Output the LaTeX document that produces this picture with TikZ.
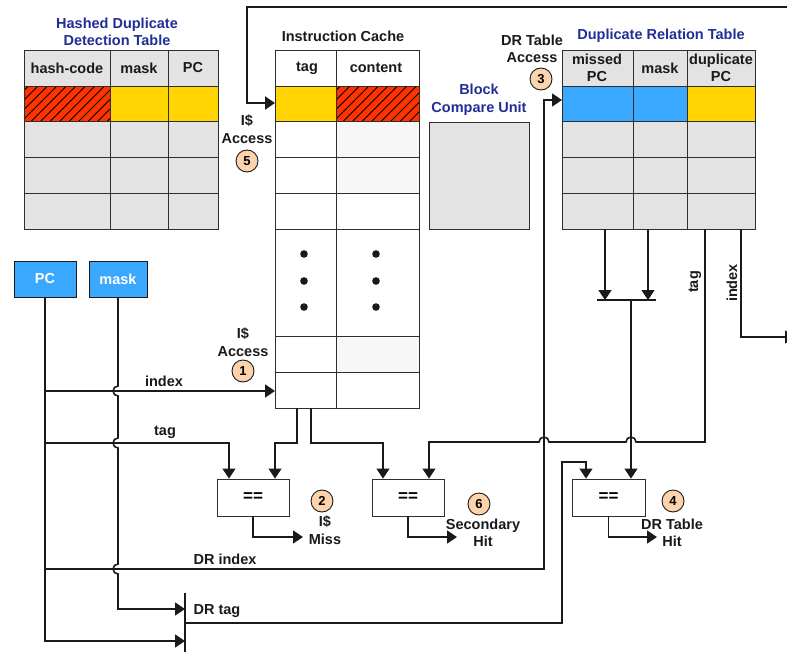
\documentclass[tikz,border=0pt]{standalone}
\usepackage{fontspec}
\setmainfont{Liberation Sans}
\usetikzlibrary{arrows.meta}

\begin{document}
\begin{tikzpicture}[
  x=1pt, y=-1pt,
  font=\fontsize{14.5}{17.5}\selectfont\bfseries,
  wire/.style={draw=lineDark, line width=1.6pt},
  arr/.style={wire, -{Triangle[length=10pt, width=13pt]}},
  title/.style={text=titleBlue, align=center, inner sep=0pt},
  lbl/.style={text=lineDark, align=center, inner sep=0pt},
  cmpbox/.style={draw=gridLine, fill=white, line width=0.9pt, minimum width=72pt, minimum height=37pt, font=\fontsize{17}{17}\selectfont\bfseries},
  regbox/.style={draw=lineDark, fill=regBlue, text=white, line width=0.9pt, minimum height=36pt, inner sep=0pt},
  stepno/.style={circle, draw=lineDark, fill=stepPeach, line width=0.9pt, minimum size=22pt, inner sep=0pt, font=\fontsize{13}{13}\selectfont\bfseries},
]

\definecolor{lineDark}{HTML}{1A1A1A}
\definecolor{gridLine}{HTML}{2E2E2E}
\definecolor{titleBlue}{HTML}{1F2F96}
\definecolor{cellGray}{HTML}{E3E3E3}
\definecolor{cacheTint}{HTML}{F7F7F7}
\definecolor{hitYellow}{HTML}{FFD400}
\definecolor{hatchRed}{HTML}{FF3300}
\definecolor{regBlue}{HTML}{3BA8FF}
\definecolor{stepPeach}{HTML}{FCD3AC}

\useasboundingbox (0,0) rectangle (787,653);

% Helper macros: x0, x1, y0, y1 (and fill).
\newcommand{\tblcell}[5]{%
  \draw[draw=gridLine, line width=0.9pt, fill=#5] (#1,#3) rectangle (#2,#4);%
}
\newcommand{\hatchcell}[4]{%
  \begin{scope}
    \clip (#1,#3) rectangle (#2,#4);
    \fill[hatchRed] (#1,#3) rectangle (#2,#4);
    \foreach \hx in {-40,-30.5,...,110} {\draw[line width=0.9pt] ({#1+\hx},#4) -- ++(40,-40);}
  \end{scope}
  \draw[draw=gridLine, line width=0.9pt] (#1,#3) rectangle (#2,#4);%
}

% Hashed duplicate detection table.
\foreach \xa/\xb in {24/110,110/168,168/218}
  \foreach \ya/\yb in {50/86,121/157,157/193,193/229}
    {\tblcell{\xa}{\xb}{\ya}{\yb}{cellGray}}
\hatchcell{24}{110}{86}{121}
\tblcell{110}{168}{86}{121}{hitYellow}
\tblcell{168}{218}{86}{121}{hitYellow}
\node[title] (hdtitle) at (117,32) {Hashed Duplicate\\Detection Table};
\node[lbl] (hdhash) at (67,68) {hash-code};
\node[lbl] (hdmask) at (139,68) {mask};
\node[lbl] (hdpc) at (193,68) {PC};

% Instruction cache.
\foreach \ya/\yb in {50/86,121/157,157/193,193/229,229/336,336/372,372/408}
  {\tblcell{275}{336}{\ya}{\yb}{white}}
\foreach \ya/\yb in {50/86,193/229,229/336,372/408}
  {\tblcell{336}{419}{\ya}{\yb}{white}}
\foreach \ya/\yb in {121/157,157/193,336/372}
  {\tblcell{336}{419}{\ya}{\yb}{cacheTint}}
\tblcell{275}{336}{86}{121}{hitYellow}
\hatchcell{336}{419}{86}{121}
\foreach \dy in {254,281,307} {
  \fill[lineDark] (304,\dy) circle (3.8);
  \fill[lineDark] (376,\dy) circle (3.8);
}
\node[lbl] (ictitle) at (343,36) {Instruction Cache};
\node[lbl] (ictag) at (307,68) {tag};
\node[lbl] (iccont) at (376,68) {content};

% Block compare unit.
\tblcell{429}{529}{122}{229}{cellGray}
\node[title] (bctitle) at (479,100) {Block\\Compare Unit};

% Duplicate relation table.
\foreach \xa/\xb in {562/633,633/687,687/755}
  \foreach \ya/\yb in {50/86,121/157,157/193,193/229}
    {\tblcell{\xa}{\xb}{\ya}{\yb}{cellGray}}
\tblcell{562}{633}{86}{121}{regBlue}
\tblcell{633}{687}{86}{121}{regBlue}
\tblcell{687}{755}{86}{121}{hitYellow}
\node[title] (drtitle) at (661,36) {Duplicate Relation Table};
\node[lbl] (drhpc) at (597,68) {missed\\PC};
\node[lbl] (drhmask) at (660,68) {mask};
\node[lbl] (drhdup) at (721,68) {duplicate\\PC};

% Registers and comparators.
\node[regbox, minimum width=62pt] (pcreg) at (45,279) {PC};
\node[regbox, minimum width=58pt] (maskreg) at (118,279) {mask};
\node[cmpbox] (cmpmiss) at (253,497.5) {==};
\node[cmpbox] (cmpsec) at (408,497.5) {==};
\node[cmpbox, minimum width=73pt] (cmpdr) at (608.5,497.5) {==};

% Ports.
\coordinate (icacc) at (275,103);
\coordinate (icidx) at (275,391);
\coordinate (icout1) at (297,408);
\coordinate (icout2) at (311,408);
\coordinate (dracc) at (562,100);
\coordinate (drpc) at (605,229);
\coordinate (drmask) at (648,229);
\coordinate (drtag) at (705,229);
\coordinate (dridx) at (741,229);
\coordinate (mergeL) at (597,300);
\coordinate (mergeR) at (656,300);
\coordinate (mergeM) at (631,300);
\coordinate (tagbarT) at (185,593);
\coordinate (tagbarB) at (185,652);
\coordinate (tagbarM) at (185,623);
\coordinate (tagbarIn1) at (185,609);
\coordinate (tagbarIn2) at (185,641);
\coordinate (loopin) at (790,7);
\coordinate (idxout) at (795,337);
\coordinate (missout) at (303,537);
\coordinate (secout) at (457,537);
\coordinate (drhitout) at (657,537);

% Step labels.
\node[lbl] (acc5) at (247,129) {I\$\\Access};
\node[stepno] (s5) at (247,161) {5};
\node[lbl] (acc1) at (243,342) {I\$\\Access};
\node[stepno] (s1) at (243,371) {1};
\node[lbl] (acc3) at (532,49) {DR Table\\Access};
\node[stepno] (s3) at (541,79) {3};
\node[stepno] (s2) at (322,501) {2};
\node[lbl] (miss) at (325,530) {I\$\\Miss};
\node[stepno] (s6) at (479,504) {6};
\node[lbl] (sechit) at (483,533) {Secondary\\Hit};
\node[stepno] (s4) at (673,501) {4};
\node[lbl] (drhit) at (672,533) {DR Table\\Hit};

% Wire labels.
\node[lbl] (lblindex) at (164,381) {index};
\node[lbl] (lbltag) at (165,432) {tag};
\node[lbl] (lbldridx) at (225,559) {DR index};
\node[lbl] (lbldrtag) at (217,611) {DR tag};
\node[lbl, rotate=90] (lbltagv) at (695,282) {tag};
\node[lbl, rotate=90] (lblidxv) at (732,283) {index};

% PC and mask fan-out.
\draw[arr] (pcreg.south) |- (tagbarIn2);
\draw[arr] (pcreg.south |- icidx) -- (icidx);
\draw[arr] (pcreg.south |- 0,443) -| ([xshift=-24pt]cmpmiss.north);
\draw[arr] (pcreg.south |- 0,569) -| ([xshift=-18pt]dracc) -- (dracc);
\draw[arr] (maskreg.south) -- (118,386) arc(270:90:5) -- (118,438) arc(270:90:5)
  -- (118,564) arc(270:90:5) |- (tagbarIn1);
\draw[wire] (tagbarT) -- (tagbarB);
\draw[arr] (tagbarM) -| (562,462) -| ([xshift=-22.5pt]cmpdr.north);

% Loop back into the cache.
\draw[arr, line width=2pt] (loopin) -- (247,7) |- (icacc);

% Cache outputs.
\draw[arr] (icout1) -- (297,443) -| ([xshift=22pt]cmpmiss.north);
\draw[arr] (icout2) -- (311,443) -| ([xshift=-25pt]cmpsec.north);

% Duplicate relation table outputs.
\draw[arr] (drpc) -- (drpc |- mergeM);
\draw[arr] (drmask) -- (drmask |- mergeM);
\draw[wire] (mergeL) -- (mergeR);
\draw[arr] (mergeM) -- ([xshift=22.5pt]cmpdr.north);
\draw[arr] (drtag) -- (705,442) -- (636,442) arc(0:-180:5) -- (549,442) arc(0:-180:5)
  -| ([xshift=21pt]cmpsec.north);
\draw[arr] (dridx) |- (idxout);

% Comparator outputs.
\draw[arr] (cmpmiss.south) |- (missout);
\draw[arr] (cmpsec.south) |- (secout);
\draw[arr] (cmpdr.south) |- (drhitout);

\end{tikzpicture}
\end{document}
